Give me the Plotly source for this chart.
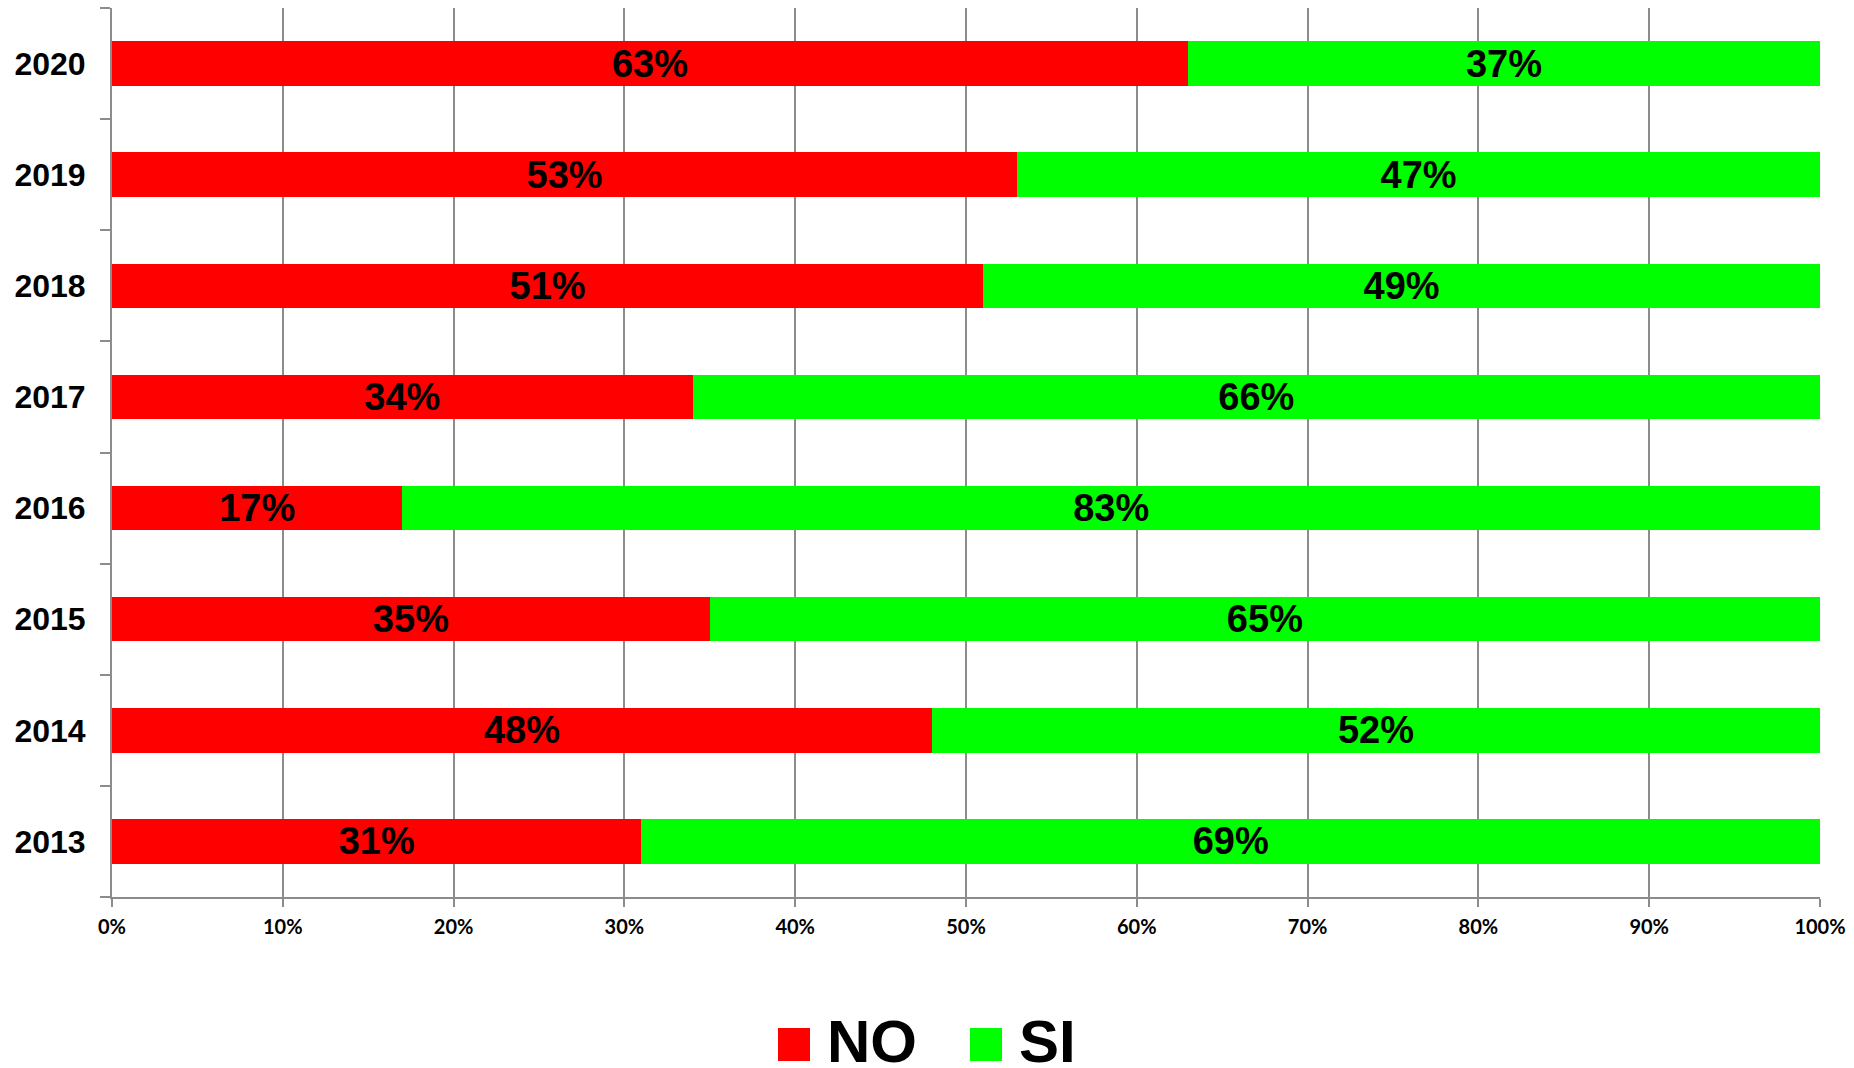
import plotly.graph_objects as go

years = ["2013", "2014", "2015", "2016", "2017", "2018", "2019", "2020"]
no_vals = [0.31, 0.48, 0.35, 0.17, 0.34, 0.51, 0.53, 0.63]
si_vals = [0.69, 0.52, 0.65, 0.83, 0.66, 0.49, 0.47, 0.37]
series_names = ["NO", "SI"]
x_ticks = [i / 10 for i in range(11)]

RED = "#ff0000"
GREEN = "#00ff00"
GRID = "#8c8c8c"

W, H = 1854, 1068
ML, MR, MT, MB = 112, 34, 8, 171
PW = W - ML - MR
PH = H - MT - MB

def px_x(p):
    return (p - ML) / PW

def px_y(p):
    return (H - MB - p) / PH

fig = go.Figure()
for name, vals, col in [(series_names[0], no_vals, RED), (series_names[1], si_vals, GREEN)]:
    fig.add_trace(go.Bar(
        y=years, x=vals, name=name, orientation="h",
        marker=dict(color=col, line=dict(width=0)),
        text=[f"{round(v*100)}%" for v in vals],
        textposition="inside", insidetextanchor="middle",
        constraintext="none",
        textfont=dict(family="Liberation Sans, Arial", size=38, color="black", weight="bold"),
        showlegend=False,
        hoverinfo="skip",
    ))

fig.update_layout(
    barmode="stack",
    bargap=0.6,
    width=W, height=H,
    margin=dict(l=ML, r=MR, t=MT, b=MB, pad=0),
    plot_bgcolor="white", paper_bgcolor="white",
    showlegend=False,
)

fig.update_xaxes(
    range=[0, 1], tickvals=x_ticks, tickformat=".0%",
    showgrid=True, gridcolor=GRID, gridwidth=1.5,
    showline=True, linecolor=GRID, linewidth=2,
    ticks="outside", ticklen=8, tickwidth=2, tickcolor=GRID,
    tickfont=dict(family="Lato", size=20, color="black", weight="bold"),
    ticklabelstandoff=3,
    zeroline=False, fixedrange=True,
)
fig.update_yaxes(
    type="category", categoryorder="array", categoryarray=years,
    showgrid=False,
    showline=True, linecolor=GRID, linewidth=2,
    ticks="outside", tickson="boundaries", ticklen=10, tickwidth=2, tickcolor=GRID,
    tickfont=dict(family="Liberation Sans, Arial", size=32, color="black", weight="bold"),
    ticklabelstandoff=18,
    fixedrange=True,
)

# Custom legend (large square swatches)
legend_items = [(series_names[0], RED, 778, 828), (series_names[1], GREEN, 970, 1020)]
for name, col, sq_x, tx in legend_items:
    fig.add_shape(type="rect", xref="paper", yref="paper",
                  x0=px_x(sq_x), x1=px_x(sq_x + 32), y0=px_y(1061), y1=px_y(1028),
                  fillcolor=col, line=dict(width=0))
    fig.add_annotation(xref="paper", yref="paper", x=px_x(tx - 3), y=px_y(1041),
                       xanchor="left", yanchor="middle", showarrow=False, text=name,
                       font=dict(family="Liberation Sans, Arial", size=60, color="black", weight="bold"))

fig.write_html("out.html", config={"displayModeBar": False},
               post_script="document.body.style.margin='0';document.body.style.overflow='hidden';")
